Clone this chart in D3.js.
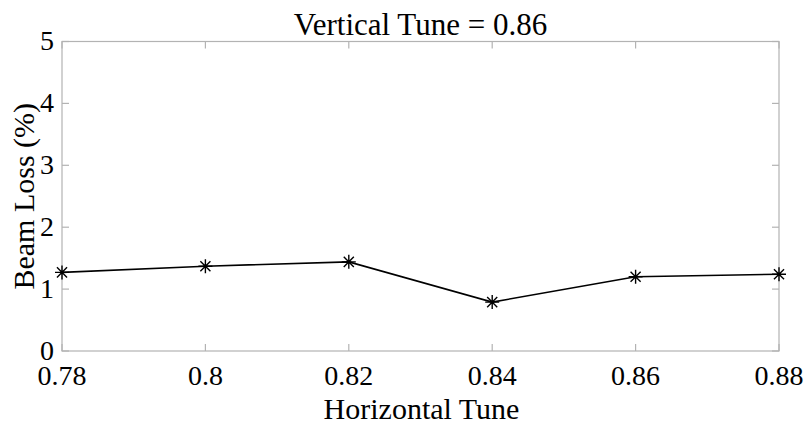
<!DOCTYPE html>
<html>
<head>
<meta charset="utf-8">
<script src="https://cdn.jsdelivr.net/npm/d3@7"></script>
<style>
  body { margin: 0; background: #fff; }
</style>
</head>
<body>
<svg id="mainsvg" width="808" height="424"></svg>
<script>
// data
const hTune = [0.78, 0.80, 0.82, 0.84, 0.86, 0.88]
const beamLoss = [1.27, 1.37, 1.44, 0.79, 1.20, 1.24]
const xTicks = [0.78, 0.80, 0.82, 0.84, 0.86, 0.88]
const xTickLabels = ['0.78', '0.8', '0.82', '0.84', '0.86', '0.88']
const yTicks = [0, 1, 2, 3, 4, 5]

const plotLeft = 62, plotRight = 779, plotTop = 41.5, plotBottom = 351
const axisColor = '#b3b3b3'
const tickLen = 7
const serif = "'Times New Roman', 'Liberation Serif', Tinos, 'DejaVu Serif', serif"

const svg = d3.select('#mainsvg')
const x = d3.scaleLinear().domain([0.78, 0.88]).range([plotLeft, plotRight])
const y = d3.scaleLinear().domain([0, 5]).range([plotBottom, plotTop])

// box
svg.append('rect')
  .attr('x', plotLeft).attr('y', plotTop)
  .attr('width', plotRight - plotLeft).attr('height', plotBottom - plotTop)
  .attr('fill', 'none').attr('stroke', axisColor).attr('stroke-width', 1.2)

// ticks on all four sides
xTicks.forEach(v => {
  svg.append('line').attr('x1', x(v)).attr('x2', x(v)).attr('y1', plotBottom).attr('y2', plotBottom - tickLen)
    .attr('stroke', axisColor).attr('stroke-width', 1.2)
  svg.append('line').attr('x1', x(v)).attr('x2', x(v)).attr('y1', plotTop).attr('y2', plotTop + tickLen)
    .attr('stroke', axisColor).attr('stroke-width', 1.2)
})
yTicks.forEach(v => {
  svg.append('line').attr('x1', plotLeft).attr('x2', plotLeft + tickLen).attr('y1', y(v)).attr('y2', y(v))
    .attr('stroke', axisColor).attr('stroke-width', 1.2)
  svg.append('line').attr('x1', plotRight).attr('x2', plotRight - tickLen).attr('y1', y(v)).attr('y2', y(v))
    .attr('stroke', axisColor).attr('stroke-width', 1.2)
})

// tick labels
svg.selectAll('.xlab').data(xTicks).enter().append('text')
  .attr('x', d => x(d)).attr('y', 385)
  .attr('text-anchor', 'middle').attr('font-size', 28).attr('font-family', serif)
  .text((d, i) => xTickLabels[i])
svg.selectAll('.ylab').data(yTicks).enter().append('text')
  .attr('x', 54).attr('y', d => y(d) + 8.5)
  .attr('text-anchor', 'end').attr('font-size', 28).attr('font-family', serif)
  .text(d => d)

// line
svg.append('path')
  .datum(hTune.map((h, i) => [h, beamLoss[i]]))
  .attr('d', d3.line().x(d => x(d[0])).y(d => y(d[1])))
  .attr('fill', 'none').attr('stroke', '#000').attr('stroke-width', 1.6)

// asterisk markers
const r = 7, rd = r * 0.72
hTune.forEach((h, i) => {
  const cx = x(h), cy = y(beamLoss[i])
  svg.append('path')
    .attr('d', `M${cx - r},${cy}L${cx + r},${cy}M${cx},${cy - r}L${cx},${cy + r}` +
      `M${cx - rd},${cy - rd}L${cx + rd},${cy + rd}M${cx - rd},${cy + rd}L${cx + rd},${cy - rd}`)
    .attr('stroke', '#000').attr('stroke-width', 1.4).attr('fill', 'none')
})

// titles
svg.append('text').attr('x', (plotLeft + plotRight) / 2).attr('y', 35)
  .attr('text-anchor', 'middle').attr('font-size', 31).attr('font-family', serif)
  .text('Vertical Tune = 0.86')
svg.append('text').attr('x', (plotLeft + plotRight) / 2 + 1).attr('y', 419)
  .attr('text-anchor', 'middle').attr('font-size', 30).attr('font-family', serif)
  .text('Horizontal Tune')
svg.append('text')
  .attr('transform', `translate(33.5,${(plotTop + plotBottom) / 2}) rotate(-90)`)
  .attr('text-anchor', 'middle').attr('font-size', 30).attr('font-family', serif)
  .text('Beam Loss (%)')
</script>
</body>
</html>
